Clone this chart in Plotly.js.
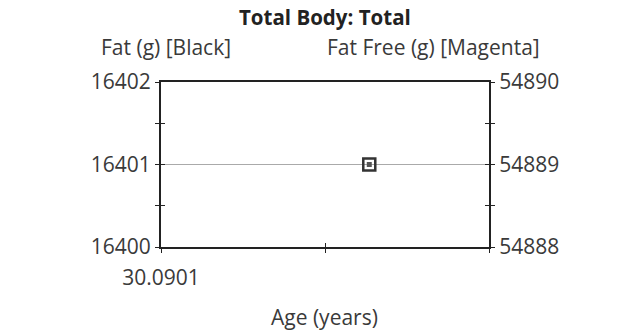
<!DOCTYPE html>
<html><head><meta charset="utf-8">
<script src="https://cdn.plot.ly/plotly-3.0.1.min.js"></script>
<style>html,body{margin:0;padding:0;background:#fff}#chart{width:620px;height:333px}</style>
</head><body><div id="chart"></div>
<script>
var age = [30.090227];
var fatG = [16401];
var fatFreeG = [54889];
var xTickVals = [30.0901, 30.0902, 30.0903];
var xTickText = ['30.0901', '', ''];
var yLeftTicks = [16400, 16401, 16402];
var yRightTicks = [54888, 54889, 54890];

var fnt = {family: 'Open Sans, Noto Sans, sans-serif', size: 21, color: '#3a3a3a'};
var traces = [
  {x: age, y: fatG, type: 'scatter', mode: 'markers', name: 'Fat',
   marker: {symbol: 'square-open', size: 12, color: '#333', line: {width: 2.5, color: '#333'}}, yaxis: 'y'},
  {x: age, y: fatFreeG, type: 'scatter', mode: 'markers', name: 'Fat Free',
   marker: {symbol: 'square', size: 5, color: '#555'}, yaxis: 'y2'}
];
var layout = {
  width: 620, height: 333,
  paper_bgcolor: '#fff', plot_bgcolor: '#fff',
  margin: {l: 161, r: 131, t: 82, b: 86},
  showlegend: false,
  font: fnt,
  title: {text: '<b>Total Body: Total</b>', x: 0.524, xanchor: 'center', y: 0.946, yanchor: 'middle', font: {family: fnt.family, size: 20.5, color: '#222'}},
  xaxis: {range: [30.0901, 30.0903], tickvals: xTickVals, ticktext: xTickText, ticks: 'outside', ticklen: 4, tickcolor: '#222',
          ticklabelstandoff: 7,
          showline: true, linecolor: '#222', linewidth: 2, mirror: true, showgrid: false, zeroline: false,
          tickfont: fnt},
  yaxis: {range: [16400, 16402], tickvals: yLeftTicks, ticktext: yLeftTicks.map(String), ticks: 'outside', ticklen: 4, tickcolor: '#222',
          minor: {dtick: 0.5, ticks: 'outside', ticklen: 4, tickcolor: '#222', showgrid: false},
          showline: true, linecolor: '#222', linewidth: 2, showgrid: true, gridcolor: '#aaa', gridwidth: 1, zeroline: false, tickfont: fnt},
  yaxis2: {range: [54888, 54890], tickvals: yRightTicks, ticktext: yRightTicks.map(String), overlaying: 'y', side: 'right',
           ticks: 'outside', ticklen: 4, tickcolor: '#222',
           minor: {dtick: 0.5, ticks: 'outside', ticklen: 4, tickcolor: '#222', showgrid: false},
           showline: true, linecolor: '#222', linewidth: 2, showgrid: false, zeroline: false, tickfont: fnt},
  xaxis3: {overlaying: 'x', range: [30.0901, 30.0903], tickvals: xTickVals, showticklabels: false, ticks: 'inside', ticklen: 4, tickcolor: '#222', showgrid: false, zeroline: false, showline: false},
  yaxis3: {overlaying: 'y', range: [16400, 16402], dtick: 0.5, tick0: 16400, showticklabels: false, ticks: 'inside', ticklen: 4, tickcolor: '#222', showgrid: false, zeroline: false, showline: false},
  yaxis4: {overlaying: 'y', side: 'right', range: [54888, 54890], dtick: 0.5, tick0: 54888, showticklabels: false, ticks: 'inside', ticklen: 4, tickcolor: '#222', showgrid: false, zeroline: false, showline: false},
  annotations: [
    {text: 'Fat (g) [Black]', xref: 'paper', yref: 'paper', x: 0.015, y: 1.212, xanchor: 'center', yanchor: 'middle', showarrow: false, font: fnt},
    {text: 'Fat Free (g) [Magenta]', xref: 'paper', yref: 'paper', x: 0.831, y: 1.212, xanchor: 'center', yanchor: 'middle', showarrow: false, font: fnt},
    {text: 'Age (years)', xref: 'paper', yref: 'paper', x: 0.499, y: -0.424, xanchor: 'center', yanchor: 'middle', showarrow: false, font: fnt}
  ]
};
traces.push({x: age, y: fatG, xaxis: 'x3', yaxis: 'y3', type: 'scatter', mode: 'markers', marker: {opacity: 0}, hoverinfo: 'skip'});
traces.push({x: age, y: fatFreeG, xaxis: 'x3', yaxis: 'y4', type: 'scatter', mode: 'markers', marker: {opacity: 0}, hoverinfo: 'skip'});
Plotly.newPlot('chart', traces, layout, {displayModeBar: false, staticPlot: true});
</script></body></html>
